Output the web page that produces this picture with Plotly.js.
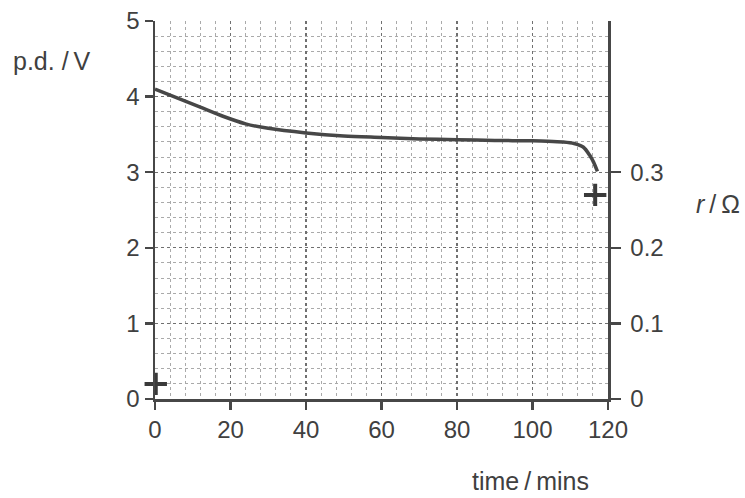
<!DOCTYPE html>
<html>
<head>
<meta charset="utf-8">
<script src="https://cdn.plot.ly/plotly-3.0.1.min.js"></script>
<style>html,body{margin:0;padding:0;background:#fff;}#chart{width:745px;height:498px;}</style>
</head>
<body>
<div id="chart"></div>
<script>
// p.d. curve (time in mins, p.d. in V)
const timeMins = [0, 6, 12, 18, 24, 30, 40, 50, 60, 70, 80, 90, 100, 104, 108, 111, 113.5, 115.2, 116.2, 117.2];
const pdVolts  = [4.10, 3.98, 3.86, 3.74, 3.64, 3.58, 3.52, 3.48, 3.46, 3.44, 3.43, 3.42, 3.415, 3.41, 3.40, 3.38, 3.33, 3.22, 3.13, 3.01];
// internal resistance points (time in mins, r in ohm)
const rTime = [0.2, 116.6];
const rOhm  = [0.02, 0.27];
// tick labels
const xTicks = [0, 20, 40, 60, 80, 100, 120];
const yTicks = [0, 1, 2, 3, 4, 5];
const y2Ticks = [0, 0.1, 0.2, 0.3];

const ink = '#474747';
const fam = 'Liberation Sans, Arial, sans-serif';
const font = {family: fam, size: 24, color: '#404040'};
const lblFont = {family: fam, size: 25, color: '#404040'};

const data = [
  {x: timeMins, y: pdVolts, type: 'scatter', mode: 'lines', line: {color: '#474747', width: 3.5, shape: 'spline', smoothing: 0.8}, hoverinfo: 'skip'},
  {x: rTime, y: rOhm, yaxis: 'y2', type: 'scatter', mode: 'markers', cliponaxis: false, marker: {symbol: 'cross-thin', size: 16, line: {color: '#3a3a3a', width: 4}}, hoverinfo: 'skip'}
];

const layout = {
  width: 745, height: 498,
  margin: {l: 155, r: 137, t: 21, b: 99},
  paper_bgcolor: '#ffffff', plot_bgcolor: '#ffffff',
  showlegend: false,
  font: font,
  xaxis: {
    range: [0, 120], tickvals: xTicks, ticktext: xTicks.map(String),
    showline: true, linecolor: ink, linewidth: 2.5,
    ticks: 'outside', ticklen: 8, tickwidth: 2.5, tickcolor: ink,
    showgrid: true, gridcolor: '#707070', griddash: 'dot', gridwidth: 1.3,
    minor: {dtick: 4, showgrid: true, gridcolor: '#aaaaaa', griddash: 'dot', gridwidth: 1, ticks: ''},
    zeroline: false, tickfont: font, fixedrange: true
  },
  yaxis: {
    range: [0, 5], tickvals: yTicks, ticktext: yTicks.map(String),
    showline: true, linecolor: ink, linewidth: 2.5,
    ticks: 'outside', ticklen: 8, tickwidth: 2.5, tickcolor: ink,
    showgrid: true, gridcolor: '#707070', griddash: 'dot', gridwidth: 1.3,
    minor: {dtick: 0.2, showgrid: true, gridcolor: '#aaaaaa', griddash: 'dot', gridwidth: 1, ticks: ''},
    zeroline: false, tickfont: font, fixedrange: true
  },
  yaxis2: {
    overlaying: 'y', side: 'right', range: [0, 0.5],
    tickvals: y2Ticks, ticktext: ['0', '0.1', '0.2', '0.3'],
    showline: true, linecolor: ink, linewidth: 2.5,
    ticks: 'outside', ticklen: 10, tickwidth: 2.5, tickcolor: ink,
    ticklabelstandoff: 5,
    showgrid: false, zeroline: false, tickfont: font, fixedrange: true
  },
  annotations: [
    {text: 'p.d. /\u2009V', xref: 'paper', yref: 'paper', x: -0.318, y: 0.895, xanchor: 'left', yanchor: 'middle', showarrow: false, font: lblFont},
    {text: '<i>r</i>\u2009/\u2009Ω', xref: 'paper', yref: 'paper', x: 1.19, y: 0.515, xanchor: 'left', yanchor: 'middle', showarrow: false, font: lblFont},
    {text: 'time\u2009/\u2009mins', xref: 'paper', yref: 'paper', x: 0.83, y: -0.216, xanchor: 'center', yanchor: 'middle', showarrow: false, font: lblFont}
  ]
};

Plotly.newPlot('chart', data, layout, {staticPlot: true, displayModeBar: false});
</script>
</body>
</html>
